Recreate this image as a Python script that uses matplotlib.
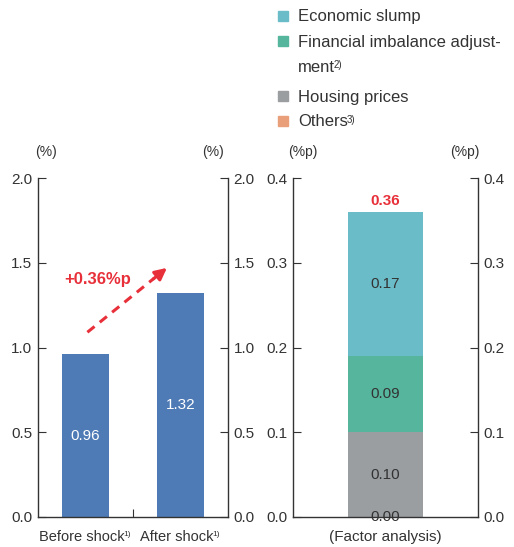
import matplotlib
matplotlib.use("Agg")
import matplotlib.pyplot as plt
from matplotlib.patches import Rectangle

# data
periods = ["Before shock", "After shock"]
period_notes = ["1)", "1)"]
rates = [0.96, 1.32]
change_label = "+0.36%p"

factors = ["Economic slump", "Financial imbalance adjust-\nment", "Housing prices", "Others"]
factor_notes = ["", "2)", "", "3)"]
factor_colors = ["#6bbcc9", "#55b59d", "#9a9ea1", "#e9a07a"]
# stacked from the bottom: Others, Housing prices, Financial imbalance, Economic slump
stack_order = [3, 2, 1, 0]
contrib = [0.17, 0.09, 0.10, 0.00]
total = 0.36

BLUE = "#4e7ab5"
RED = "#e8303a"
DARK = "#333333"

plt.rcParams["font.family"] = ["Liberation Sans", "DejaVu Sans"]

fig = plt.figure(figsize=(5.14, 5.47), dpi=100)
ax1 = fig.add_axes([38 / 514, 30 / 547, 190 / 514, 339 / 547])
ax2 = fig.add_axes([293 / 514, 30 / 547, 185 / 514, 339 / 547])


def style_axis(ax, ymax, step, fmt, unit, ux):
    ax.set_ylim(0, ymax)
    ax.spines["top"].set_visible(False)
    for s in ["left", "right", "bottom"]:
        ax.spines[s].set_color(DARK)
        ax.spines[s].set_linewidth(1.0)
    ticks = [round(i * step, 2) for i in range(int(round(ymax / step)) + 1)]
    ax.set_yticks(ticks)
    ax.set_yticklabels([fmt.format(t) for t in ticks])
    ax.tick_params(axis="y", direction="in", length=6, color=DARK, labelsize=11,
                   labelcolor=DARK, left=True, right=True, labelleft=True, labelright=True, pad=4)
    ax.tick_params(axis="x", direction="in", length=6, color=DARK, labelsize=11,
                   labelcolor=DARK, pad=6)
    for u in ux:
        ax.text(u, 1.077, unit, transform=ax.transAxes, ha="center", va="center", fontsize=10,
                color=DARK)


# left panel
x = [0, 1]
ax1.bar(x, rates, width=0.49, color=BLUE)
for xi, v in zip(x, rates):
    ax1.text(xi, v / 2, f"{v:.2f}", ha="center", va="center", color="white", fontsize=11)
ax1.set_xlim(-0.5, 1.5)
style_axis(ax1, 2.0, 0.5, "{:.1f}", "(%)", [0.042, 0.92])
ax1.set_xticks([0.5])
ax1.set_xticklabels([""])
for xi, lab, note in zip(x, periods, period_notes):
    t = ax1.text(xi - 0.04, -0.059, lab, transform=ax1.get_xaxis_transform(), ha="center",
                 va="center", fontsize=10.5, color=DARK)
    ax1.annotate(note, xy=(1, 0.95), xycoords=t, xytext=(-0.8, 0), textcoords="offset points",
                 ha="left", va="top", fontsize=6, color=DARK, annotation_clip=False)

# dashed red arrow
x0, y0, x1, y1 = 0.02, 1.09, 0.88, 1.48
ax1.plot([x0, x0 + (x1 - x0) * 0.82], [y0, y0 + (y1 - y0) * 0.82], ls=(0, (3, 2.2)),
         color=RED, lw=2.2)
ax1.annotate("", xy=(x1, y1), xytext=(x0 + (x1 - x0) * 0.78, y0 + (y1 - y0) * 0.78),
             arrowprops=dict(arrowstyle="-|>,head_length=0.7,head_width=0.35", color=RED, lw=2.2))
ax1.text(0.13, 1.40, change_label, ha="center", va="center", color=RED, fontsize=12,
         fontweight="bold")

# right panel
bottom = 0.0
for idx in stack_order:
    v = contrib[idx]
    ax2.bar(0, v, width=0.41, bottom=bottom, color=factor_colors[idx])
    ax2.text(0, bottom + v / 2, f"{v:.2f}", ha="center", va="center", color=DARK, fontsize=11)
    bottom += v
ax2.text(0, total + 0.013, f"{total:.2f}", ha="center", va="center", color=RED, fontsize=11,
         fontweight="bold")
ax2.set_xlim(-0.5, 0.5)
style_axis(ax2, 0.4, 0.1, "{:.1f}", "(%p)", [0.054, 0.93])
ax2.set_xticks([])
ax2.text(0, -0.059, "(Factor analysis)", transform=ax2.get_xaxis_transform(), ha="center",
         va="center", fontsize=11, color=DARK)

# legend (one text per line, squares only on the first line of an entry)
leg_rows = [16, 41, 96, 121]
for label, note, color, yy in zip(factors, factor_notes, factor_colors, leg_rows):
    fig.add_artist(Rectangle((278 / 514, 1 - (yy + 5) / 547), 10 / 514, 10 / 547,
                             transform=fig.transFigure, color=color))
    lines = label.split("\n")
    for k, line in enumerate(lines):
        t = fig.text(298 / 514, 1 - (yy + 25 * k + 1) / 547, line, ha="left", va="center",
                     fontsize=12, color=DARK)
    if note:
        fig.add_artist(plt.Annotation(note, xy=(1, 0.95), xycoords=t, xytext=(-0.8, 0),
                                      textcoords="offset points", ha="left", va="top",
                                      fontsize=7, color=DARK, annotation_clip=False))

fig.savefig("out.png", dpi=100)
